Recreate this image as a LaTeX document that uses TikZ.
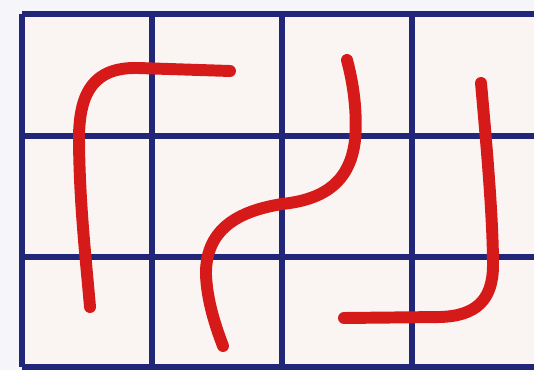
\documentclass[tikz,border=0pt]{standalone}
\usepackage{tikz}
\definecolor{gridblue}{RGB}{34,38,120}
\definecolor{wirered}{RGB}{214,26,26}
\definecolor{cellbg}{RGB}{250,245,242}
\definecolor{pagebg}{RGB}{246,246,250}

\begin{document}
\begin{tikzpicture}[
    x=0.5mm, y=-0.5mm,
    gridline/.style={draw=gridblue, line width=8pt},
    wire/.style={draw=wirered, line width=17pt, line cap=round}
]
    \useasboundingbox (0, 0) rectangle (534, 370);
    \fill[pagebg] (0, 0) rectangle (534, 370);
    \begin{scope}
        \clip (0, 0) rectangle (534, 370);
        \fill[cellbg] (22, 14) rectangle (542, 367);
        \foreach \gx in {22, 152, 282, 412, 542}
            \draw[gridline] (\gx, 14) -- (\gx, 367);
        \foreach \gy in {14, 136, 257, 367}
            \draw[gridline] (22, \gy) -- (542, \gy);
    \end{scope}

    \draw[wire] (230, 71) -- (138, 68) .. controls (94, 67) and (80, 92) .. (79, 135)
        .. controls (79, 200) and (86, 260) .. (90, 307);
    \draw[wire] (347, 60) .. controls (355, 90) and (357, 118) .. (355, 140)
        .. controls (350, 185) and (320, 200) .. (282, 204)
        .. controls (245, 210) and (205, 225) .. (206, 275)
        .. controls (207, 300) and (215, 325) .. (223, 346);
    \draw[wire] (481, 83) .. controls (487, 150) and (493, 220) .. (493, 265)
        .. controls (493, 300) and (476, 316) .. (440, 317) -- (344, 318);
\end{tikzpicture}
\end{document}
